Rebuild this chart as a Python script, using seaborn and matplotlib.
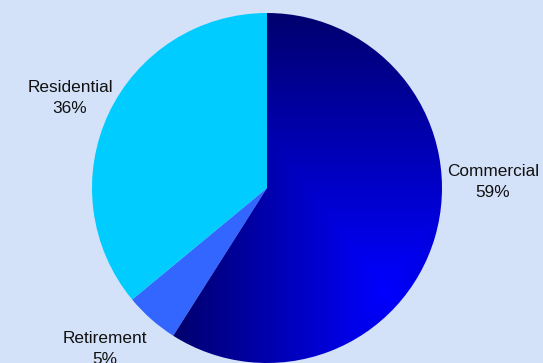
import numpy as np
import matplotlib
matplotlib.use("Agg")
import matplotlib.pyplot as plt
import seaborn as sns
from matplotlib.colors import LinearSegmentedColormap

# ---- data ----
categories = ["Commercial", "Retirement", "Residential"]
shares = [59, 5, 36]
pct_labels = ["59%", "5%", "36%"]

# ---- style ----
BG = "#D4E2F9"
sns.set_style("white")
plt.rcParams["font.family"] = ["Liberation Sans", "DejaVu Sans"]

colors = ["#0000C0", "#3366FF", "#00CCFF"]

fig = plt.figure(figsize=(5.43, 3.63), dpi=100, facecolor=BG)
ax = fig.add_axes([0, 0, 1, 1])
ax.set_facecolor(BG)

wedges, _ = ax.pie(shares, colors=colors, startangle=90, counterclock=False,
                   radius=1.0, center=(0, 0),
                   wedgeprops=dict(linewidth=0, antialiased=True))

# gradient fill for the Commercial wedge (rectangular gradient toward lower right)
gx0, gx1, gy0, gy1 = -0.6, 1.02, -1.02, 1.02
nx, ny = 400, 500
xs = np.linspace(gx0, gx1, nx)
ys = np.linspace(gy1, gy0, ny)
XX, YY = np.meshgrid(xs, ys)
cx, cy, sx, sy = 0.674, -0.583, 1.2, 1.583
t = np.maximum(np.abs(XX - cx) / sx, np.abs(YY - cy) / sy)
t = np.clip(t, 0, 1)
cmap = LinearSegmentedColormap.from_list("comm", ["#0000FF", "#00006E"])
wedges[0].set_facecolor("none")
im = ax.imshow(t, cmap=cmap, vmin=0, vmax=1, extent=(gx0, gx1, gy0, gy1),
               interpolation="bilinear", zorder=wedges[0].get_zorder() + 0.1)
im.set_clip_path(wedges[0])

# labels
label_pos = [(1.291, 0.034), (-0.926, -0.92), (-1.126, 0.517)]
for (lx, ly), cat, pct in zip(label_pos, categories, pct_labels):
    ax.text(lx, ly, f"{cat}\n{pct}", ha="center", va="center",
            multialignment="center", fontsize=12.4, color="#111111",
            linespacing=1.5, zorder=5)

ax.set_xlim(-267 / 175, (543 - 267) / 175)
ax.set_ylim(-(363 - 188) / 175, 188 / 175)
ax.set_aspect("auto")
ax.axis("off")

fig.savefig("out.png", dpi=100, facecolor=BG)
